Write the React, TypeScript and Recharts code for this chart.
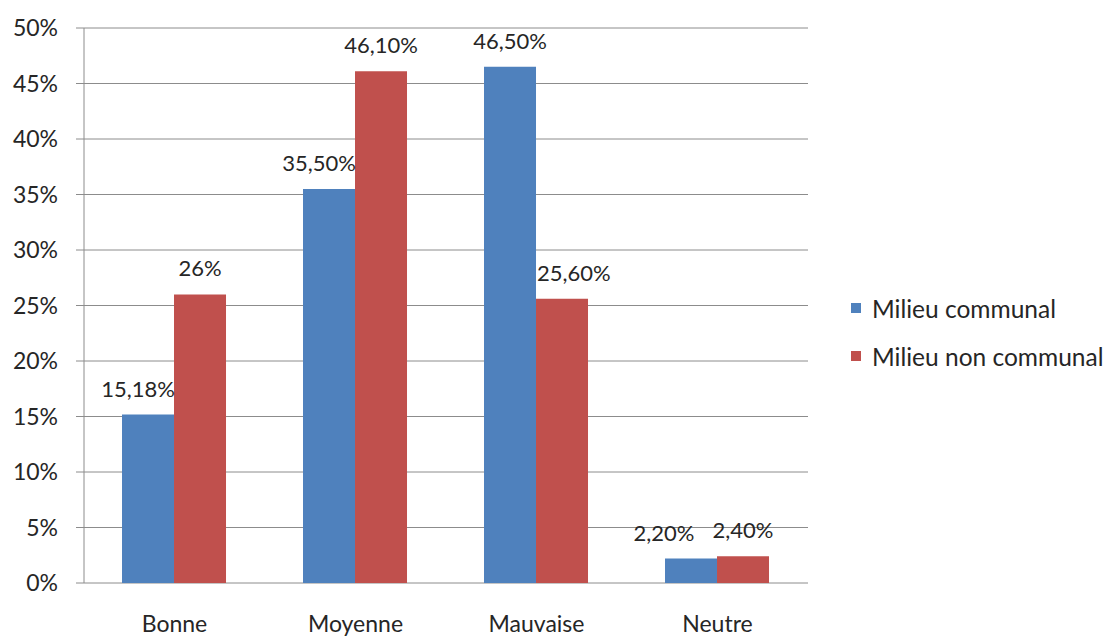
import React from "react";
import { BarChart, Bar, XAxis, YAxis, CartesianGrid, LabelList } from "recharts";

const categories = ["Bonne", "Moyenne", "Mauvaise", "Neutre"];
const communal = [15.18, 35.5, 46.5, 2.2];
const nonCommunal = [26, 46.1, 25.6, 2.4];
const communalLabels = ["15,18%", "35,50%", "46,50%", "2,20%"];
const nonCommunalLabels = ["26%", "46,10%", "25,60%", "2,40%"];
const yTicks = [0, 5, 10, 15, 20, 25, 30, 35, 40, 45, 50];
const seriesNames = ["Milieu communal", "Milieu non communal"];
const colors = ["#4F81BD", "#C0504D"];

const data = categories.map((c, i) => ({
  cat: c,
  a: communal[i],
  b: nonCommunal[i],
  la: communalLabels[i],
  lb: nonCommunalLabels[i],
}));

const FONT = "Lato, 'Open Sans', sans-serif";
const TXT = "#262626";
const AXIS = "#8c8c8c";

// Label placement that mimics the spreadsheet's collision avoidance:
// when the neighbouring bar is clearly taller, the label is pushed to the outer edge.
const makeLabel = (series: "a" | "b") => (props: any) => {
  const { x, y, width, index } = props;
  const d = data[index];
  const text = series === "a" ? d.la : d.lb;
  const own = series === "a" ? d.a : d.b;
  const other = series === "a" ? d.b : d.a;
  let tx = x + width / 2;
  let anchor: "middle" | "start" | "end" = "middle";
  if (other - own > 3) {
    if (series === "a") {
      tx = x + width + 1;
      anchor = "end";
    } else {
      tx = x + 1;
      anchor = "start";
    }
  } else if (Math.abs(other - own) <= 3 && series === "a") {
    tx = x + width / 2 - 27;
  }
  return (
    <text x={tx} y={y - 18} textAnchor={anchor} fontSize={22} fontFamily={FONT} fill={TXT}>
      {text}
    </text>
  );
};

export default function App() {
  return (
    <div style={{ position: "absolute", left: 0, top: 0, width: 1110, height: 637, background: "#fff" }}>
      <BarChart
        width={1110}
        height={637}
        data={data}
        margin={{ top: 28, right: 302, bottom: 0, left: 0 }}
        barCategoryGap="21%"
        barGap={0}
      >
        <CartesianGrid vertical={false} stroke={AXIS} strokeWidth={1} />
        <XAxis
          xAxisId="sep"
          type="number"
          domain={[0, 4]}
          ticks={[0, 1, 2, 3, 4]}
          height={0}
          axisLine={{ stroke: AXIS }}
          tickLine={{ stroke: AXIS }}
          tickSize={7}
          tick={() => <g />}
          allowDataOverflow
        />
        <XAxis
          dataKey="cat"
          height={54}
          axisLine={false}
          tickLine={false}
          tickSize={0}
          tickMargin={33}
          tick={{ fontSize: 23, fontFamily: FONT, fill: TXT }}
          interval={0}
        />
        <YAxis
          width={84}
          domain={[0, 50]}
          ticks={yTicks}
          tickFormatter={(v: number) => `${v}%`}
          axisLine={{ stroke: AXIS }}
          tickLine={{ stroke: AXIS }}
          tickSize={8}
          tickMargin={18}
          tick={{ fontSize: 23, fontFamily: FONT, fill: TXT }}
        />
        <Bar dataKey="a" name={seriesNames[0]} fill={colors[0]} isAnimationActive={false}>
          <LabelList dataKey="la" content={makeLabel("a")} />
        </Bar>
        <Bar dataKey="b" name={seriesNames[1]} fill={colors[1]} isAnimationActive={false}>
          <LabelList dataKey="lb" content={makeLabel("b")} />
        </Bar>
      </BarChart>
      <div style={{ position: "absolute", left: 851, top: 284, fontFamily: FONT, fontSize: 24.5, color: TXT }}>
        {seriesNames.map((n, i) => (
          <div key={n} style={{ display: "flex", alignItems: "center", height: 48, whiteSpace: "nowrap" }}>
            <span style={{ width: 10, height: 10, background: colors[i], display: "inline-block", marginRight: 11 }} />
            <span>{n}</span>
          </div>
        ))}
      </div>
    </div>
  );
}
